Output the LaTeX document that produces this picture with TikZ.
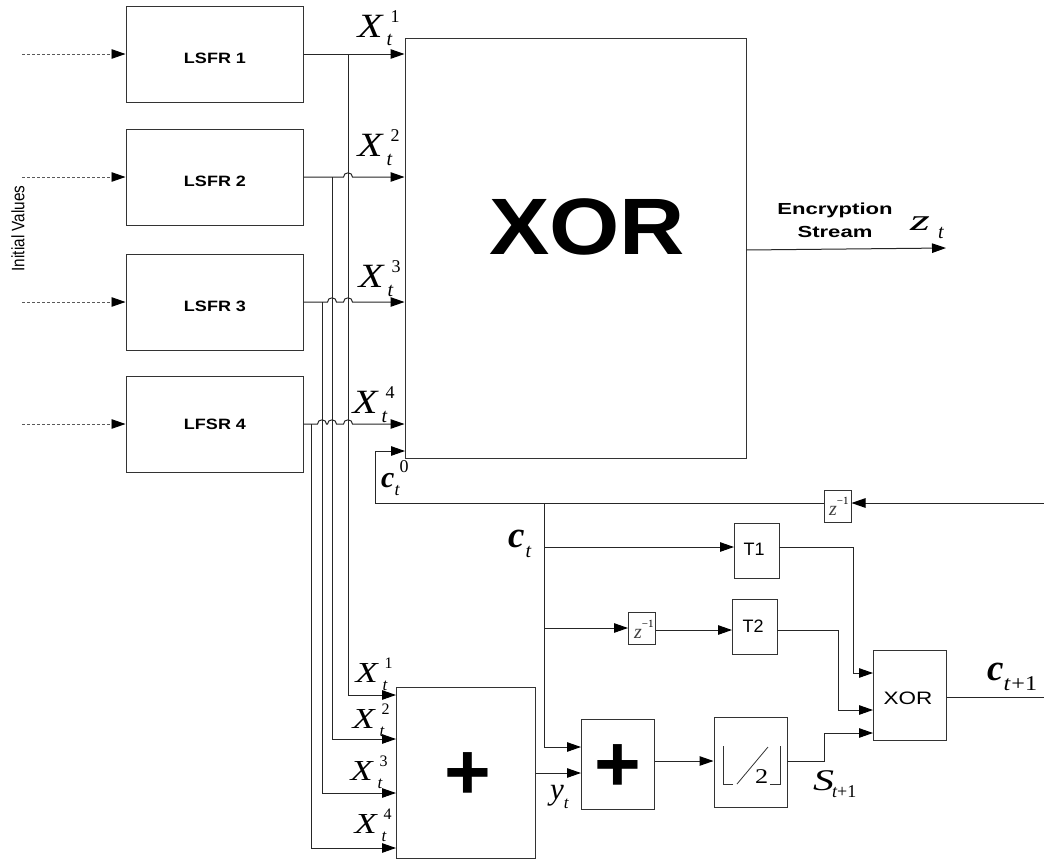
\documentclass[tikz,border=0pt]{standalone}
\usepackage{fontspec}
\usepackage{graphicx}
\setmainfont{Liberation Serif}
\newfontfamily\hv{Liberation Sans}
\usetikzlibrary{arrows.meta,calc}
\tikzset{
  blk/.style={draw=black!80,line width=1pt,inner sep=0pt,fill=white},
  wire/.style={draw=black!85,line width=1pt},
  arr/.style={wire,-{Triangle[length=14pt,width=9.5pt,color=black]}},
  dsh/.style={draw=black!65,line width=0.9pt,dash pattern=on 3pt off 2pt,-{Triangle[length=14pt,width=9.5pt,color=black]}},
  lab/.style={inner sep=0pt,anchor=base west},
  ctr/.style={inner sep=0pt,anchor=center}
}
% X with subscript t and a superscript: stretch, X size, t offset, t drop, t size, sup offset, sup rise, sup size, digit
\newcommand\XG[9]{\rlap{\scalebox{#1}[1]{\fontsize{#2}{#2}\selectfont\itshape X}}\rlap{\hspace{#3pt}\raisebox{-#4pt}{\fontsize{#5}{#5}\selectfont\itshape t}}\rlap{\hspace{#6pt}\raisebox{#7pt}{\fontsize{#8}{#8}\selectfont #9}}\hspace{42pt}}
\newcommand\XL[1]{\XG{1.2}{34}{29}{9}{20}{33}{14.5}{18}{#1}}
\newcommand\XLs[1]{\XG{1.25}{29}{27}{8}{17}{29}{14}{16}{#1}}
\newcommand\ZI{{\color{black!75}\fontsize{20}{20}\selectfont\itshape z}\raisebox{11pt}{\fontsize{11}{11}\selectfont −1}}
\newcommand\LS[1]{\scalebox{1.2}[1]{\hv\bfseries\fontsize{15}{15}\selectfont #1}}
\newcommand\hump[1]{-- ([xshift=-4.5pt]#1) .. controls +(0,-5.5) and +(0,-5.5) .. ++(9,0)}
\begin{document}
\begin{tikzpicture}[x=1pt,y=-1pt]
\useasboundingbox (0,0) rectangle (1044,862);
\fill[white] (0,0) rectangle (1044,862);
% boxes
\node[blk,minimum width=177pt,minimum height=96pt] (l1) at (214.5,54) {};
\node[blk,minimum width=177pt,minimum height=96pt] (l2) at (214.5,177) {};
\node[blk,minimum width=177pt,minimum height=96pt] (l3) at (214.5,302) {};
\node[blk,minimum width=177pt,minimum height=96pt] (l4) at (214.5,424) {};
\node[blk,minimum width=341pt,minimum height=420pt] (xor) at (575.5,248) {};
\node[blk,minimum width=139pt,minimum height=171pt] (pa) at (465.5,772.5) {};
\node[blk,minimum width=73pt,minimum height=90pt] (pb) at (617.5,764) {};
\node[blk,minimum width=73pt,minimum height=90pt] (fl) at (750.5,762) {};
\node[blk,minimum width=73pt,minimum height=90pt] (xs) at (909.5,695) {};
\node[blk,minimum width=45pt,minimum height=55pt] (t1) at (756.5,550.5) {};
\node[blk,minimum width=45pt,minimum height=55pt] (t2) at (754.5,626.5) {};
\node[blk,minimum width=27pt,minimum height=32pt] (z1) at (837.5,506) {};
\node[blk,minimum width=27pt,minimum height=32pt] (z2) at (642,628) {};
% box texts
\node[ctr] (tl1) at (215,58) {\LS{LSFR 1}};
\node[ctr] (tl2) at (215,181) {\LS{LSFR 2}};
\node[ctr] (tl3) at (215,306) {\LS{LSFR 3}};
\node[ctr] (tl4) at (215,424) {\LS{LFSR 4}};
\node[ctr] (tx) at (587,227) {\scalebox{1.13}[1]{\hv\bfseries\fontsize{80}{80}\selectfont XOR}};
\node[ctr] (tp1) at (468,776) {\hv\bfseries\fontsize{80}{80}\selectfont +};
\node[ctr] (tp2) at (618,768) {\hv\bfseries\fontsize{80}{80}\selectfont +};
\node[ctr] (tt1) at (754,549) {\hv\fontsize{18}{18}\selectfont T1};
\node[ctr] (tt2) at (753,626) {\hv\fontsize{18}{18}\selectfont T2};
\node[ctr] (tsx) at (908,698) {\scalebox{1.25}[1]{\hv\fontsize{18}{18}\selectfont XOR}};
\node[lab] (tz1) at (829,515) {\ZI};
\node[lab] (tz2) at (634,638) {\ZI};
% floor symbol
\draw[draw=black!80,line width=0.8pt] (733,784) -- (723,784) -- (723,746);
\draw[draw=black!80,line width=0.8pt] (770,784) -- (780,784) -- (780,746);
\draw[draw=black!80,line width=0.8pt] (737,784) -- (768,747);
\node[lab] (t2f) at (755,783) {\scalebox{1.25}[1]{\fontsize{21}{21}\selectfont 2}};
% coordinates
\coordinate (v1) at (348,54);
\coordinate (v2) at (332,177);
\coordinate (v3) at (322,302);
\coordinate (v4) at (311,424);
\coordinate (i1) at (396,695);
\coordinate (i2) at (396,739);
\coordinate (i3) at (396,793);
\coordinate (i4) at (396,848);
\coordinate (cin) at (405,451);
\coordinate (c0) at (375,503);
\coordinate (ctj) at (544,503);
\coordinate (fb) at (1044,503);
\coordinate (ctin) at (581,747);
\coordinate (yin) at (581,773);
\coordinate (t1i) at (734,547);
\coordinate (t1o) at (779,547);
\coordinate (t1c) at (853,547);
\coordinate (x1) at (873,673);
\coordinate (t2i) at (732,630);
\coordinate (t2o) at (777,630);
\coordinate (t2c) at (838,630);
\coordinate (x2) at (873,710);
\coordinate (x3) at (873,733);
\coordinate (flo) at (787,761);
\coordinate (flc) at (824,761);
\coordinate (out) at (1044,697);
\coordinate (zout) at (946,248);
\coordinate (xo) at (746,250);
% initial value inputs
\coordinate (d1) at (22,54);
\coordinate (d2) at (22,177);
\coordinate (d3) at (22,302);
\coordinate (d4) at (22,424);
\draw[dsh] (d1) -- (l1.west);
\draw[dsh] (d2) -- (l2.west);
\draw[dsh] (d3) -- (l3.west);
\draw[dsh] (d4) -- (l4.west);
% LFSR outputs
\draw[arr] (l1.east) -- (xor.west |- l1.east);
\draw[arr] (l2.east) \hump{v1 |- l2.east} -- (xor.west |- l2.east);
\draw[arr] (l3.east) \hump{v2 |- l3.east} \hump{v1 |- l3.east} -- (xor.west |- l3.east);
\draw[arr] (l4.east) \hump{v3 |- l4.east} \hump{v2 |- l4.east} \hump{v1 |- l4.east} -- (xor.west |- l4.east);
\draw[arr] (v1) |- (i1);
\draw[arr] (v2) |- (i2);
\draw[arr] (v3) |- (i3);
\draw[arr] (v4) |- (i4);
% output
\draw[arr] (xo) -- (zout);
% carry
\draw[arr] (z1.west |- c0) -- (c0) |- (cin);
\draw[arr] (fb) -- (z1.east |- fb);
\draw[arr] (ctj) |- (ctin);
\draw[arr] (ctj |- t1i) -- (t1i);
\draw[arr] (ctj |- z2.west) -- (z2.west);
\draw[arr] (z2.east |- t2i) -- (t2i);
\draw[arr] (t1o) -- (t1c) |- (x1);
\draw[arr] (t2o) -- (t2c) |- (x2);
\draw[arr] (pa.east |- yin) -- (yin);
\draw[arr] (pb.east |- flo) -- (fl.west |- flo);
\draw[arr] (flo) -- (flc) |- (x3);
\draw[wire] (xs.east |- out) -- (out);
% math labels
\node[lab] (a1) at (357,37) {\XL{1}};
\node[lab] (a2) at (357,156) {\XL{2}};
\node[lab] (a3) at (358,287) {\XL{3}};
\node[lab] (a4) at (352,413) {\XL{4}};
\node[lab] (b1) at (355,682) {\XLs{1}};
\node[lab] (b2) at (352,728) {\XLs{2}};
\node[lab] (b3) at (350,780) {\XLs{3}};
\node[lab] (b4) at (354,833) {\XLs{4}};
\node[lab] (lc0) at (381,487) {{\fontsize{30}{30}\selectfont\bfseries\itshape c}\raisebox{-8pt}{\fontsize{18}{18}\selectfont\itshape t}\raisebox{15pt}{\fontsize{18}{18}\selectfont 0}};
\node[lab] (lct) at (508,547) {{\fontsize{37}{37}\selectfont\bfseries\itshape c}\kern1pt\raisebox{-10pt}{\fontsize{20}{20}\selectfont\itshape t}};
\node[lab] (lct1) at (987,680) {{\fontsize{37}{37}\selectfont\bfseries\itshape c}\raisebox{-10pt}{\scalebox{1.15}[1]{\fontsize{21}{21}\selectfont\itshape t\kern1pt\upshape +1}}};
\node[lab] (ls) at (813,790) {\scalebox{1.4}[1]{\fontsize{30}{30}\selectfont\itshape S}\kern-2pt\raisebox{-7pt}{\fontsize{18}{18}\selectfont\itshape t\upshape +1}};
\node[lab] (ly) at (550,799) {{\fontsize{31}{31}\selectfont\itshape y}\raisebox{-9pt}{\fontsize{17}{17}\selectfont\itshape t}};
\node[lab] (lz) at (910,230) {\scalebox{1.7}[1]{\fontsize{30}{30}\selectfont\itshape z}\kern8pt\raisebox{-8pt}{\fontsize{20}{20}\selectfont\itshape t}};
\node[ctr,align=center,font=\hv\bfseries\fontsize{16}{23}\selectfont,xscale=1.38,transform shape] (enc) at (835,220) {Encryption\\Stream};
\node[ctr,rotate=90] (iv) at (18,228.5) {\scalebox{0.85}[1]{\hv\fontsize{18}{18}\selectfont Initial Values}};
\end{tikzpicture}
\end{document}
